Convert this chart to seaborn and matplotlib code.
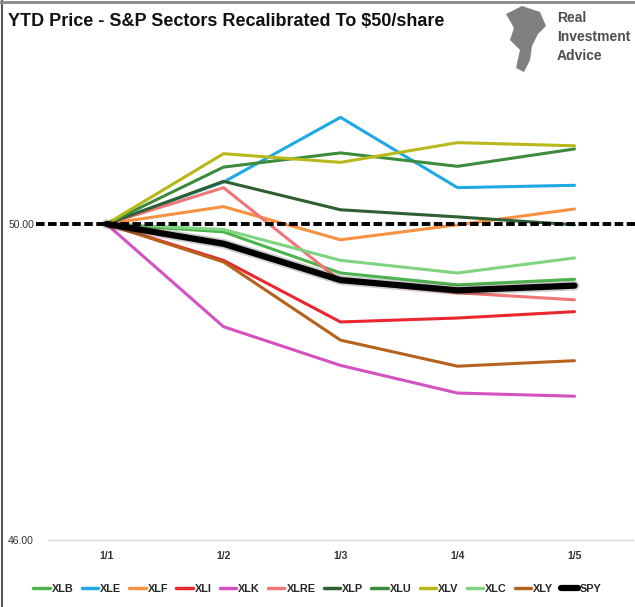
import pandas as pd
import matplotlib.pyplot as plt
import seaborn as sns
from matplotlib.lines import Line2D
from matplotlib.patches import Polygon
import matplotlib.patheffects as pe

# Dữ liệu
dates = ["1/1", "1/2", "1/3", "1/4", "1/5"]
xlb = [50.00, 49.90, 49.38, 49.23, 49.30]
xle = [50.00, 50.53, 51.35, 50.46, 50.49]
xlf = [50.00, 50.22, 49.80, 49.99, 50.19]
xli = [50.00, 49.54, 48.76, 48.81, 48.89]
xlk = [50.00, 48.70, 48.21, 47.86, 47.82]
xlre = [50.00, 50.46, 49.28, 49.13, 49.04]
xlp = [50.00, 50.54, 50.18, 50.09, 49.99]
xlu = [50.00, 50.72, 50.90, 50.73, 50.95]
xlv = [50.00, 50.89, 50.78, 51.03, 50.99]
xlc = [50.00, 49.93, 49.54, 49.38, 49.57]
xly = [50.00, 49.52, 48.53, 48.20, 48.27]
spy = [50.00, 49.75, 49.29, 49.16, 49.22]

sectors = ["XLB", "XLE", "XLF", "XLI", "XLK", "XLRE", "XLP", "XLU", "XLV", "XLC", "XLY", "SPY"]
values = [xlb, xle, xlf, xli, xlk, xlre, xlp, xlu, xlv, xlc, xly, spy]
colors = {"XLB": "#4db34d", "XLE": "#1fa8e6", "XLF": "#f59140", "XLI": "#e8282e",
          "XLK": "#d452c0", "XLRE": "#f07575", "XLP": "#2e5e31", "XLU": "#3d8c3d",
          "XLV": "#b8b81a", "XLC": "#80d480", "XLY": "#b5621e", "SPY": "#000000"}

rows = []
for s, v in zip(sectors, values):
    for i, val in enumerate(v):
        rows.append({"sector": s, "x": i, "price": val})
df = pd.DataFrame(rows)

sns.set_style("white")
plt.rcParams["font.family"] = ["Liberation Sans", "DejaVu Sans"]

fig = plt.figure(figsize=(6.35, 6.07), dpi=100)
ax = fig.add_axes([48/635, 1 - 540/607, 585/635, 474/607])

# Đường tham chiếu 50
ax.plot([-0.6, 4.6], [50, 50], ls=(0, (2.2, 0.9)), color="black", lw=2.8, clip_on=False, zorder=5)

sns.lineplot(data=df[df.sector != "SPY"], x="x", y="price", hue="sector",
             hue_order=sectors[:-1], palette=colors, lw=2.2, legend=False, ax=ax, zorder=3)
sns.lineplot(data=df[df.sector == "SPY"], x="x", y="price", color="black", lw=4.5,
             legend=False, ax=ax, zorder=4,
             path_effects=[pe.SimpleLineShadow(offset=(0, 0), shadow_color="black", alpha=0.2, linewidth=7), pe.Normal()])

ax.set_xlim(-0.5, 4.5)
ax.set_ylim(46, 52)
ax.set_yticks([46, 50])
ax.set_yticklabels(["46.00", "50.00"], fontsize=7.5, color="#333333")
ax.set_xticks(range(5))
ax.set_xticklabels(dates, fontsize=7.5, fontweight="bold", color="#333333")
ax.set_xticks([0.5, 1.5, 2.5, 3.5], minor=True)
ax.tick_params(axis="x", which="major", length=0, pad=8)
ax.tick_params(axis="x", which="minor", length=5, color="#d9d9d9", width=1, direction="out")
ax.tick_params(axis="y", length=0, pad=10)
ax.set_xlabel("")
ax.set_ylabel("")
for side in ["top", "right", "left"]:
    ax.spines[side].set_visible(False)
ax.spines["bottom"].set_color("#d9d9d9")
ax.spines["bottom"].set_linewidth(1)

# Chú thích
handles = [Line2D([0], [0], color=colors[s], lw=4.5 if s == "SPY" else 2.5) for s in sectors]
fig.legend(handles, sectors, loc="center", bbox_to_anchor=(0.5, 1 - 589/607), ncol=12,
           frameon=False, handlelength=1.5, handletextpad=0.2, columnspacing=0.75,
           prop={"size": 7.8, "weight": "bold"})

# Tiêu đề
fig.text(8/635, 1 - 21/607, "YTD Price - S&P Sectors Recalibrated To \\$50/share",
         fontsize=13, fontweight="bold", color="#111111", va="center", ha="left")

# Logo
pts = [[506, 14], [522, 6], [540, 12], [546, 26], [538, 34], [532, 46], [530, 60],
       [524, 72], [516, 68], [520, 50], [510, 40], [514, 28]]
fig.patches.append(Polygon([[x, 607 - y] for x, y in pts], closed=True, transform=None,
                           facecolor="#808080", edgecolor="none"))
for i, w in enumerate(["Real", "Investment", "Advice"]):
    fig.text(557/635, 1 - (18 + i * 19)/607, w, fontsize=10, fontweight="bold",
             color="#4d4d4d", va="center", ha="left")

# Khung
fig.add_artist(Line2D([2/635, 2/635], [0, 1], color="#555555", lw=1.5))
fig.add_artist(Line2D([0, 1], [1 - 2/607, 1 - 2/607], color="#888888", lw=2))

fig.savefig("out.png", dpi=100)
